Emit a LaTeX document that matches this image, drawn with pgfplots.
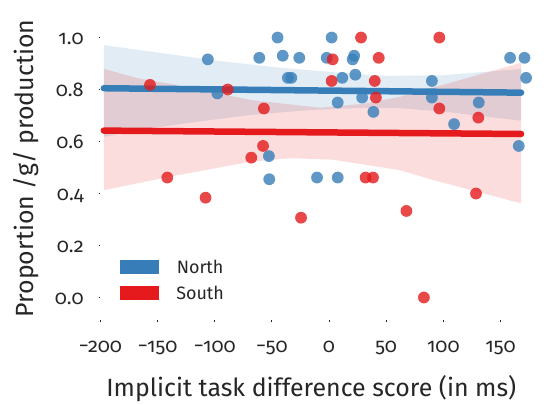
\documentclass[border=0pt]{standalone}
\usepackage{fontspec}
\setmainfont{Fira Sans}[Numbers=OldStyle]
\usepackage{pgfplots}
\pgfplotsset{compat=1.18}
\usepgfplotslibrary{fillbetween}
\definecolor{nblue}{HTML}{377EB8}
\definecolor{sred}{HTML}{E41A1C}
\definecolor{txt}{HTML}{262626}

\pgfplotstableread{
x y
-106 0.916
-97.7 0.785
-61 0.922
-45 1.0
-40.5 0.93
-26 0.922
-36 0.845
-33 0.845
-52.6 0.544
-52.3 0.455
-10.5 0.4615
7.6 0.4615
2.3 1.0
-2 0.922
22 0.93
20.7 0.916
11.6 0.845
23 0.857
7.6 0.75
29 0.769
38.8 0.714
90 0.833
90 0.769
131 0.75
109.4 0.667
158.4 0.922
171 0.922
172.4 0.845
166 0.583
}\north

\pgfplotstableread{
x y
-156.6 0.818
-88.6 0.80
-57 0.727
-57.7 0.583
-68 0.538
-141.5 0.4615
-108 0.384
-24.5 0.307
28 1.0
96.5 1.0
3.2 0.916
43.5 0.922
2.3 0.833
40 0.833
41 0.769
96.5 0.727
130.6 0.692
32 0.4615
38.5 0.4615
67.7 0.333
128.6 0.40
83 0.0
}\south

\begin{document}
\begin{tikzpicture}
\begin{axis}[
  at={(0,0)}, anchor=south west,
  scale only axis, width=421.8bp, height=303bp,
  xmin=-200, xmax=169, ymin=-0.0865, ymax=1.079,
  clip=false,
  axis x line=bottom, axis y line=left,
  axis line style={draw=none,-},
  tick align=outside, major tick length=1.5bp,
  tick style={txt, line width=0.8bp},
  xtick={-200,-150,-100,-50,0,50,100,150},
  xticklabels={−200,−150,−100,−50,0,50,100,150},
  ytick={0,0.2,0.4,0.6,0.8,1.0},
  yticklabels={0.0,0.2,0.4,0.6,0.8,1.0},
  tick label style={font=\fontsize{20}{20}\selectfont, text=txt, inner sep=0pt},
  xticklabel style={anchor=base, yshift=-31bp},
  yticklabel style={anchor=base east, xshift=-15bp, yshift=-7bp},
  xlabel={Implicit task difference score (in ms)},
  ylabel={Proportion /g/ production},
  label style={font=\fontsize{25}{25}\selectfont, text=txt, inner sep=0pt},
  xlabel style={at={(axis description cs:0.5,-0.254)}, anchor=base},
  ylabel style={at={(axis description cs:-0.159,0.5)}, anchor=base},
  legend style={at={(rel axis cs:0.0465,0.198)}, anchor=north west,
    draw=none, fill=none, inner sep=0pt, outer sep=0pt,
    font=\fontsize{18}{18}\selectfont, text=txt, row sep=11bp,
    nodes={inner sep=0pt}},
  legend image code/.code={\fill[draw=none] (0bp,-7bp) rectangle (39bp,7bp); \path (53bp,0bp);},
]
% North scatter
\addplot[only marks, mark=*, mark size=5.9bp, color=nblue, fill opacity=0.8, draw opacity=0, forget plot] table {\north};
% North band
\addplot[name path=nu, draw=none, forget plot] coordinates {
 (-197,0.971) (-150,0.942) (-100,0.912) (-50,0.887) (0,0.868) (50,0.852) (100,0.855) (168,0.879)};
\addplot[name path=nl, draw=none, forget plot] coordinates {
 (-197,0.618) (-150,0.655) (-100,0.685) (-69,0.702) (-20,0.72) (30,0.73) (62,0.728) (100,0.715) (168,0.68)};
\addplot[fill=nblue, fill opacity=0.15, draw=none, forget plot] fill between[of=nu and nl];
% South scatter
\addplot[only marks, mark=*, mark size=5.9bp, color=sred, fill opacity=0.8, draw opacity=0, forget plot] table {\south};
% South band
\addplot[name path=su, draw=none, forget plot] coordinates {
 (-197,0.88) (-168,0.844) (-130,0.815) (-69,0.76) (-8,0.73) (30,0.745) (62,0.772) (115,0.837) (168,0.903)};
\addplot[name path=sl, draw=none, forget plot] coordinates {
 (-197,0.413) (-139,0.465) (-69,0.522) (-34,0.536) (3.5,0.53) (62,0.49) (91,0.452) (168,0.362)};
\addplot[fill=sred, fill opacity=0.15, draw=none, forget plot] fill between[of=su and sl];
% regression lines
\addplot[nblue, line width=6.5bp, line cap=round] coordinates {(-197,0.805) (168,0.788)};
\addlegendentry{North}
\addplot[sred, line width=6.5bp, line cap=round] coordinates {(-197,0.642) (168,0.629)};
\addlegendentry{South}
\end{axis}
\pgfresetboundingbox
\path[use as bounding box] (-100.4bp,-85bp) rectangle (443.6bp,320bp);
\end{tikzpicture}
\end{document}
